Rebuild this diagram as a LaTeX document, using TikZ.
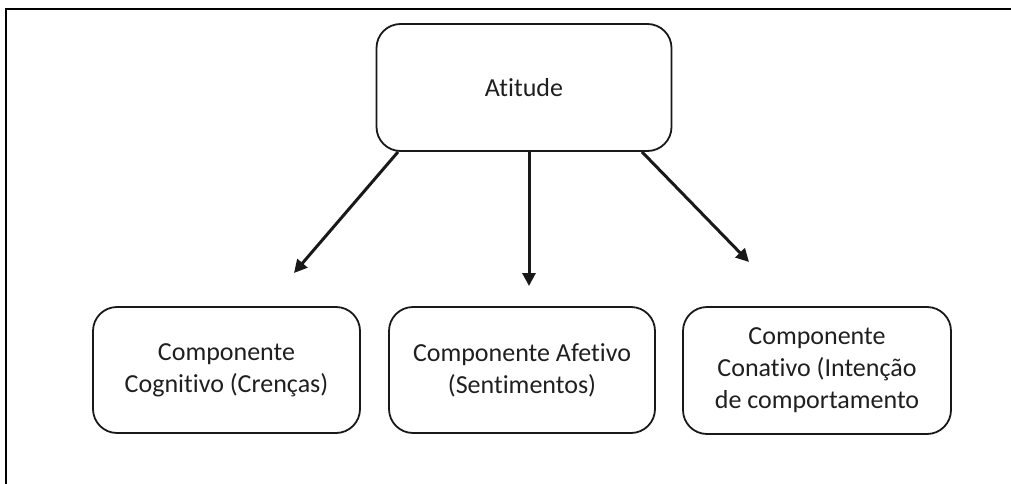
\documentclass[tikz,border=0pt]{standalone}
\usepackage{fontspec}
\setmainfont{Carlito}[Ligatures=NoCommon]
\usetikzlibrary{arrows.meta,calc}
\begin{document}
\begin{tikzpicture}[x=1pt,y=-1pt,
  box/.style={draw=black!90, line width=1.8pt, rounded corners=24pt,
    align=center, font=\fontsize{26}{32}\selectfont, text=black!88,
    inner sep=0pt},
  link/.style={line width=3pt, black!90, -{Triangle[length=13pt,width=13pt]}}]
  \useasboundingbox (0,0) rectangle (1011,484);
  % outer frame (open at right and bottom)
  \draw[line width=2pt] (6,484) -- (6,9) -- (1011,9);
  % top node
  \node[box, minimum width=295pt, minimum height=127pt] (att) at (524,87.5) {Atitude};
  % three components
  \node[box, minimum width=267pt, minimum height=126pt] (cog) at (226.5,370) {Componente\\Cognitivo (Crenças)};
  \node[box, minimum width=266pt, minimum height=126pt] (afe) at (522,370) {Componente Afetivo\\(Sentimentos)};
  \node[box, minimum width=268pt, minimum height=127pt] (con) at (817,370.5) {Componente\\Conativo (Intenção\\de comportamento};
  % arrow ends
  \coordinate (s1) at ($(att.south)+(-126,0)$);
  \coordinate (s2) at ($(att.south)+(5,0)$);
  \coordinate (s3) at ($(att.south)+(118,0)$);
  \coordinate (t1) at (294,273);
  \coordinate (t2) at (529,286);
  \coordinate (t3) at (749,262);
  \draw[link] (s1) -- (t1);
  \draw[link] (s2) -- (t2);
  \draw[link] (s3) -- (t3);
\end{tikzpicture}
\end{document}
